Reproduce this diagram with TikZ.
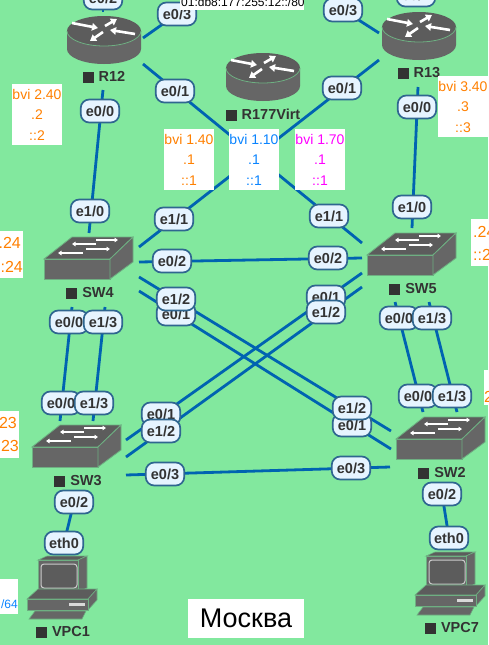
\documentclass[tikz,border=0pt]{standalone}
\usepackage{fontspec}
\setmainfont{Liberation Sans}
\usetikzlibrary{arrows.meta}
\definecolor{bgg}{RGB}{130,232,158}
\definecolor{lnk}{RGB}{0,99,177}
\definecolor{pillb}{RGB}{47,102,144}
\definecolor{pillf}{RGB}{230,244,255}
\definecolor{txt}{RGB}{51,51,51}
\definecolor{ico}{RGB}{102,102,102}
\definecolor{icot}{RGB}{92,92,92}
\definecolor{rim}{RGB}{110,175,130}
\definecolor{ora}{RGB}{255,128,0}
\definecolor{blu}{RGB}{10,132,255}
\definecolor{mag}{RGB}{255,0,255}
\tikzset{
  x=1pt,y=-1pt,
  link/.style={draw=lnk,line width=2.8pt},
  pill/.style={draw=pillb,fill=pillf,line width=1.7pt,rounded corners=8.5pt,minimum width=38.5pt,minimum height=23pt,inner sep=0pt,text=txt,font=\fontsize{14.5}{15}\selectfont\bfseries},
  devlabel/.style={text=txt,inner sep=0pt,font=\fontsize{14.5}{15}\selectfont\bfseries},
  bvibox/.style={fill=white,minimum width=50pt,minimum height=61pt,inner sep=0pt,align=center,font=\fontsize{14}{20.5}\selectfont},
  whitebox/.style={fill=white},
  crop/.style={inner sep=0pt,font=\fontsize{16}{18}\selectfont,text=ora},
  wa/.style={draw=white,line width=2.6pt,-{Triangle[width=7.5pt,length=6pt]}},
  sa/.style={draw=white,line width=1.5pt,-{Triangle[width=4.5pt,length=3.5pt]}},
  routericon/.pic={
    \fill[ico] (-37,-9) -- (-37,9) arc[start angle=180,end angle=0,x radius=37,y radius=15] -- (37,-9) -- cycle;
    \fill[icot] (0,-9) ellipse [x radius=37,y radius=15];
    \draw[rim,line width=.8pt] (-37,-9) arc[start angle=180,end angle=0,x radius=37,y radius=15];
    \draw[wa] (-32,-17) -- (-6,-12);
    \draw[wa] (1,-14) -- (13,-21);
    \draw[wa] (-1,-8) -- (-14,1);
    \draw[wa] (31,-6) -- (6,-10);
  },
  switchicon/.pic={
    \fill[icot,draw=rim,line width=.8pt] (-44,1) -- (22,1) -- (45,-21) -- (-16,-21) -- cycle;
    \fill[ico,draw=rim,line width=.8pt] (-44,1) rectangle (22,21);
    \fill[ico,draw=rim,line width=.8pt] (22,1) -- (45,-21) -- (45,4) -- (22,21) -- cycle;
    \draw[sa] (8,-18) -- (30,-18);
    \draw[sa] (8,-14) -- (-16,-14);
    \draw[sa] (-2,-9) -- (22,-9);
    \draw[sa] (-5,-5) -- (-30,-5);
  },
  pcicon/.pic={
    \fill[icot,draw=rim,line width=.6pt] (-24,-30) -- (16,-30) -- (25,-34) -- (-15,-34) -- cycle;
    \fill[ico,draw=rim,line width=.6pt] (16,-30) -- (25,-34) -- (25,-2) -- (16,2) -- cycle;
    \fill[ico,draw=rim,line width=.6pt] (-24,-30) rectangle (16,2);
    \fill[icot,draw=white!80!black,line width=1pt,rounded corners=3pt] (-21,-26) rectangle (15,-2);
    \fill[icot,draw=rim,line width=.6pt] (-35,9) -- (26,9) -- (35,-1) -- (-24,-1) -- cycle;
    \fill[ico,draw=rim,line width=.6pt] (26,9) -- (35,-1) -- (35,10) -- (26,20) -- cycle;
    \fill[ico,draw=rim,line width=.6pt] (-35,9) rectangle (26,20);
    \fill[white!85!black] (7,13) rectangle (23,16);
    \fill[ico,draw=rim,line width=.6pt] (-33,29) -- (20,29) -- (24,21) -- (-27,21) -- cycle;
  }
}
\newcommand{\sqm}{\textcolor{txt}{\rule[-1pt]{11pt}{11pt}}\hspace{5pt}}
\begin{document}
\begin{tikzpicture}
\useasboundingbox (0,0) rectangle (488,645);
\clip (0,0) rectangle (488,645);
\fill[bgg] (0,0) rectangle (488,645);

% connector end points
\coordinate (a1) at (143,38);
\coordinate (a2) at (379,33);
\coordinate (a3) at (177,14);
\coordinate (a4) at (343,10);
\coordinate (b1) at (143,64);
\coordinate (b2) at (362,243);
\coordinate (c1) at (379,60);
\coordinate (c2) at (139,247);
\coordinate (d1) at (103,90);
\coordinate (d2) at (89,233);
\coordinate (e1) at (418,87);
\coordinate (e2) at (412,228);
\coordinate (f1) at (139,262);
\coordinate (f2) at (362,258);
\coordinate (g1) at (139,277);
\coordinate (g2) at (391,431);
\coordinate (h1) at (139,291);
\coordinate (h2) at (391,449);
\coordinate (i1) at (362,273);
\coordinate (i2) at (126,440);
\coordinate (j1) at (362,287);
\coordinate (j2) at (126,457);
\coordinate (k1) at (126,475);
\coordinate (k2) at (390,467);
\coordinate (m1) at (72,307);
\coordinate (m2) at (60,421);
\coordinate (n1) at (105,307);
\coordinate (n2) at (93,421);
\coordinate (o1) at (395,302);
\coordinate (o2) at (423,412);
\coordinate (p1) at (429,302);
\coordinate (p2) at (457,412);
\coordinate (q1) at (103,12);
\coordinate (q2) at (103,0);
\coordinate (s1) at (74,502);
\coordinate (s2) at (64,543);
\coordinate (s3) at (442,494);
\coordinate (s4) at (449,538);

% links
\draw[link] (a1) -- (a3);
\draw[link] (a4) -- (a2);
\draw[link] (b1) -- (b2);
\draw[link] (c1) -- (c2);
\draw[link] (d1) -- (d2);
\draw[link] (e1) -- (e2);
\draw[link] (f1) -- (f2);
\draw[link] (g1) -- (g2);
\draw[link] (h1) -- (h2);
\draw[link] (i1) -- (i2);
\draw[link] (j1) -- (j2);
\draw[link] (k1) -- (k2);
\draw[link] (m1) -- (m2);
\draw[link] (n1) -- (n2);
\draw[link] (o1) -- (o2);
\draw[link] (p1) -- (p2);
\draw[link] (q1) -- (q2);
\draw[link] (s1) -- (s2);
\draw[link] (s3) -- (s4);

% devices
\coordinate (R12) at (104,40);
\coordinate (R177) at (263,77);
\coordinate (R13) at (419,36);
\coordinate (SW4) at (88,258);
\coordinate (SW5) at (411,254);
\coordinate (SW3) at (76,446);
\coordinate (SW2) at (440,438);
\coordinate (VPC1) at (62,590);
\coordinate (VPC7) at (450,586);
\pic at (R12) {routericon};
\pic at (R177) {routericon};
\pic at (R13) {routericon};
\pic at (SW4) {switchicon};
\pic at (SW5) {switchicon};
\pic at (SW3) {switchicon};
\pic at (SW2) {switchicon};
\pic at (VPC1) {pcicon};
\pic at (VPC7) {pcicon};

% device labels
\node[devlabel] (tR12) at (104,77) {\sqm R12};
\node[devlabel] (tR177) at (263,115) {\sqm R177Virt};
\node[devlabel] (tR13) at (419,73) {\sqm R13};
\node[devlabel] (tSW4) at (90,293) {\sqm SW4};
\node[devlabel] (tSW5) at (413,289) {\sqm SW5};
\node[devlabel] (tSW3) at (78,481) {\sqm SW3};
\node[devlabel] (tSW2) at (442,473) {\sqm SW2};
\node[devlabel] (tVPC1) at (63,632) {\sqm VPC1};
\node[devlabel] (tVPC7) at (452,628) {\sqm VPC7};

% port labels
\node[pill] (p01) at (103,-2) {e0/2};
\node[pill] (p02) at (177,14) {e0/3};
\node[pill] (p03) at (175,91) {e0/1};
\node[pill] (p04) at (100,111) {e0/0};
\node[pill] (p05) at (343,10) {e0/3};
\node[pill] (p06) at (342,88) {e0/1};
\node[pill] (p07) at (417,107) {e0/0};
\node[pill] (p08) at (416,-5) {e0/2};
\node[pill] (p09) at (90,211) {e1/0};
\node[pill] (p10) at (174,219) {e1/1};
\node[pill] (p11) at (172,261) {e0/2};
\node[pill] (p12) at (176,314) {e0/1};
\node[pill] (p13) at (176,299) {e1/2};
\node[pill] (p14) at (69,322) {e0/0};
\node[pill] (p15) at (103,322) {e1/3};
\node[pill] (p16) at (412,207) {e1/0};
\node[pill] (p17) at (329,216) {e1/1};
\node[pill] (p18) at (328,258) {e0/2};
\node[pill] (p19) at (326,297) {e0/1};
\node[pill] (p20) at (326,312) {e1/2};
\node[pill] (p21) at (399,318) {e0/0};
\node[pill] (p22) at (432,318) {e1/3};
\node[pill] (p23) at (61,403) {e0/0};
\node[pill] (p24) at (94,403) {e1/3};
\node[pill] (p25) at (161,414) {e0/1};
\node[pill] (p26) at (161,431) {e1/2};
\node[pill] (p27) at (165,474) {e0/3};
\node[pill] (p28) at (74,502) {e0/2};
\node[pill] (p29) at (64,543) {eth0};
\node[pill] (p30) at (418,396) {e0/0};
\node[pill] (p31) at (452,396) {e1/3};
\node[pill] (p32) at (352,425) {e0/1};
\node[pill] (p33) at (352,408) {e1/2};
\node[pill] (p34) at (351,468) {e0/3};
\node[pill] (p35) at (442,494) {e0/2};
\node[pill] (p36) at (449,538) {eth0};

% white address boxes
\node[bvibox,text=ora] (b240) at (37,114.5) {bvi 2.40\\.2\\::2};
\node[bvibox,text=ora] (b140) at (189,159.5) {bvi 1.40\\.1\\::1};
\node[bvibox,text=blu] (b110) at (254,159.5) {bvi 1.10\\.1\\::1};
\node[bvibox,text=mag] (b170) at (320,159.5) {bvi 1.70\\.1\\::1};
\node[bvibox,text=ora] (b340) at (463,106.5) {bvi 3.40\\.3\\::3};

\fill[whitebox] (180,-1) rectangle (304,9.5);
\node[anchor=base west,inner sep=0pt,font=\fontsize{12}{13}\selectfont] (net) at (181,6.5) {01:db8:177:255:12::/80};

\fill[whitebox] (0,231) rectangle (23,278);
\node[crop,anchor=east] (l1) at (21,243) {.24};
\node[crop,anchor=east] (l2) at (23,267) {::24};
\fill[whitebox] (471,219) rectangle (488,266);
\node[crop,anchor=west] (l3) at (473,232) {.24};
\node[crop,anchor=west] (l4) at (473,255) {::24};
\fill[whitebox] (0,411) rectangle (19,458);
\node[crop,anchor=east] (l5) at (17,423) {.23};
\node[crop,anchor=east] (l6) at (19,446) {::23};
\fill[whitebox] (484,370) rectangle (488,405);
\node[crop,anchor=west] (l7) at (484,397) {23};
\fill[whitebox] (0,579) rectangle (18,614);
\node[crop,anchor=east,text=blu,font=\fontsize{12}{13}\selectfont] (l8) at (18,604) {/64};

\node[fill=white,minimum width=116pt,minimum height=39pt,inner sep=0pt,font=\fontsize{27}{28}\selectfont] (moscow) at (246,618.5) {Москва};
\end{tikzpicture}
\end{document}
